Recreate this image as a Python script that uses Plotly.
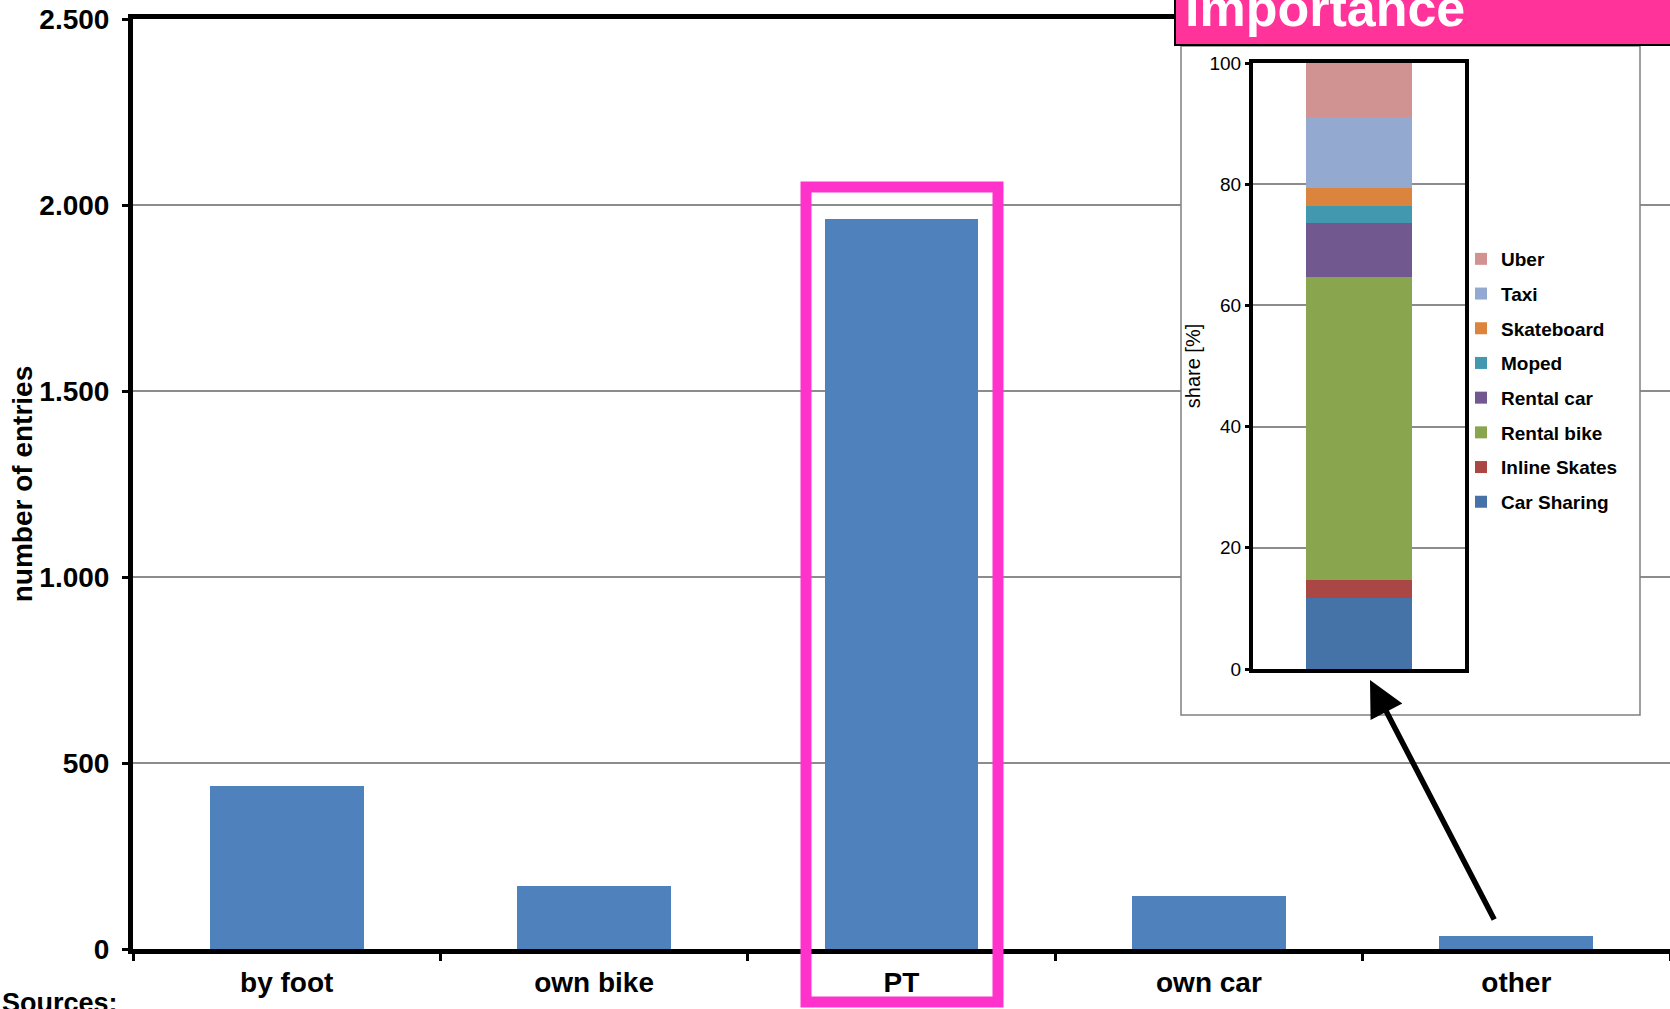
import plotly.graph_objects as go

# ---------------- data ----------------
categories = ["by foot", "own bike", "PT", "own car", "other"]
entries = [438, 169, 1962, 142, 34]

y_ticks = [0, 500, 1000, 1500, 2000, 2500]

inset_category = ["other"]
inset_modes = ["Car Sharing", "Inline Skates", "Rental bike", "Rental car",
               "Moped", "Skateboard", "Taxi", "Uber"]
inset_share = [11.76, 2.94, 50.0, 8.82, 2.94, 2.94, 11.76, 8.82]
inset_colors = ["#4572A7", "#AA4643", "#89A54E", "#71588F",
                "#4198AF", "#DB843D", "#93A9CF", "#D19392"]

FONT = "Liberation Sans, Arial, sans-serif"
W, H = 1670, 1009
ML, MR, MT, MB = 133, 0, 19, 60
PW, PH = W - ML - MR, H - MT - MB


def px(xp):
    return (xp - ML) / PW


def py(yp):
    return (H - MB - yp) / PH


fig = go.Figure()

# main bars
fig.add_trace(go.Bar(
    x=categories, y=entries, marker=dict(color="#4F81BD", line=dict(width=0)),
    showlegend=False, xaxis="x", yaxis="y"))

# inset stacked bar (legend lists the top segment first)
n = len(inset_modes)
for i, (name, val, col) in enumerate(zip(inset_modes, inset_share, inset_colors)):
    fig.add_trace(go.Bar(
        x=inset_category, y=[val], name=name, legendgroup=name, legendrank=n - i,
        marker=dict(color=col, line=dict(width=0)),
        xaxis="x2", yaxis="y2"))

shapes = []
# main gridlines (drawn as shapes so the inset panel can hide them)
for v in y_ticks[1:-1]:
    shapes.append(dict(type="line", xref="paper", yref="y", x0=0, x1=1, y0=v, y1=v,
                       line=dict(color="#8C8C8C", width=2), layer="below"))
# inset white panel
shapes.append(dict(type="rect", xref="paper", yref="paper",
                   x0=px(1181), x1=px(1640), y0=py(715), y1=py(46),
                   fillcolor="white", line=dict(color="#808080", width=1.5), layer="below"))
# pink highlight of PT
shapes.append(dict(type="rect", xref="paper", yref="paper",
                   x0=px(806), x1=px(998), y0=py(1002), y1=py(187),
                   line=dict(color="#FF33CC", width=11), fillcolor="rgba(0,0,0,0)", layer="above"))
# title box
shapes.append(dict(type="rect", xref="paper", yref="paper",
                   x0=px(1175), x1=px(1690), y0=py(45), y1=py(-10),
                   fillcolor="#FF3399", line=dict(color="black", width=2), layer="above"))

annotations = [
    dict(text="Importance", xref="paper", yref="paper", x=px(1183), y=py(-23),
         xanchor="left", yanchor="top", showarrow=False,
         font=dict(family=FONT, size=52, color="white", weight="bold")),
    dict(text="Sources:", xref="paper", yref="paper", x=px(0), y=py(986),
         xanchor="left", yanchor="top", showarrow=False,
         font=dict(family=FONT, size=27, color="black", weight="bold")),
    dict(text="", xref="paper", yref="paper", x=px(1370), y=py(680),
         ax=125, ay=241, showarrow=True, arrowhead=2, arrowsize=1.3,
         arrowwidth=5.5, arrowcolor="black", standoff=0),
]

fig.update_layout(
    width=W, height=H,
    margin=dict(l=ML, r=MR, t=MT, b=MB, pad=0),
    paper_bgcolor="white", plot_bgcolor="white",
    separators=",.",
    barmode="stack", bargap=0.5,
    font=dict(family=FONT, color="black"),
    shapes=shapes, annotations=annotations,
    showlegend=True,
    legend=dict(x=px(1461), y=py(240), xanchor="left", yanchor="top",
                traceorder="grouped", tracegroupgap=7,
                bgcolor="rgba(0,0,0,0)", borderwidth=0,
                font=dict(family=FONT, size=19, color="black", weight="bold")),
    xaxis=dict(domain=[0, 1], range=[-0.5, 4.5], showline=True, mirror=True,
               linecolor="black", linewidth=5, ticks="outside", tickson="boundaries",
               ticklen=7, tickwidth=3, tickcolor="black", showgrid=False,
               ticklabelstandoff=4,
               tickfont=dict(family=FONT, size=28, color="black", weight="bold"),
               fixedrange=True),
    yaxis=dict(domain=[0, 1], range=[0, 2500], tickvals=y_ticks, tickformat=",d",
               showline=True, linecolor="black", linewidth=5, ticks="outside",
               ticklen=6, tickwidth=3, tickcolor="black", showgrid=False,
               zeroline=False, ticklabelstandoff=7,
               tickfont=dict(family=FONT, size=28, color="black", weight="bold"),
               title=dict(text="number of entries", standoff=0,
                          font=dict(family=FONT, size=28, color="black", weight="bold"))),
    xaxis2=dict(domain=[px(1253), px(1465)], anchor="y2", range=[-0.5, 0.5],
                showline=True, mirror=True, linecolor="black", linewidth=4,
                showticklabels=False, ticks="", showgrid=False),
    yaxis2=dict(domain=[py(669), py(63)], anchor="x2", range=[0, 100], dtick=20,
                showline=True, mirror=True, linecolor="black", linewidth=4,
                ticks="outside", ticklen=4, tickwidth=3, tickcolor="black",
                showgrid=True, gridcolor="#8C8C8C", gridwidth=2, zeroline=False,
                tickfont=dict(family=FONT, size=19, color="black"),
                title=dict(text="share [%]", standoff=4,
                           font=dict(family=FONT, size=20, color="black"))),
)

fig.write_html("out.html")
